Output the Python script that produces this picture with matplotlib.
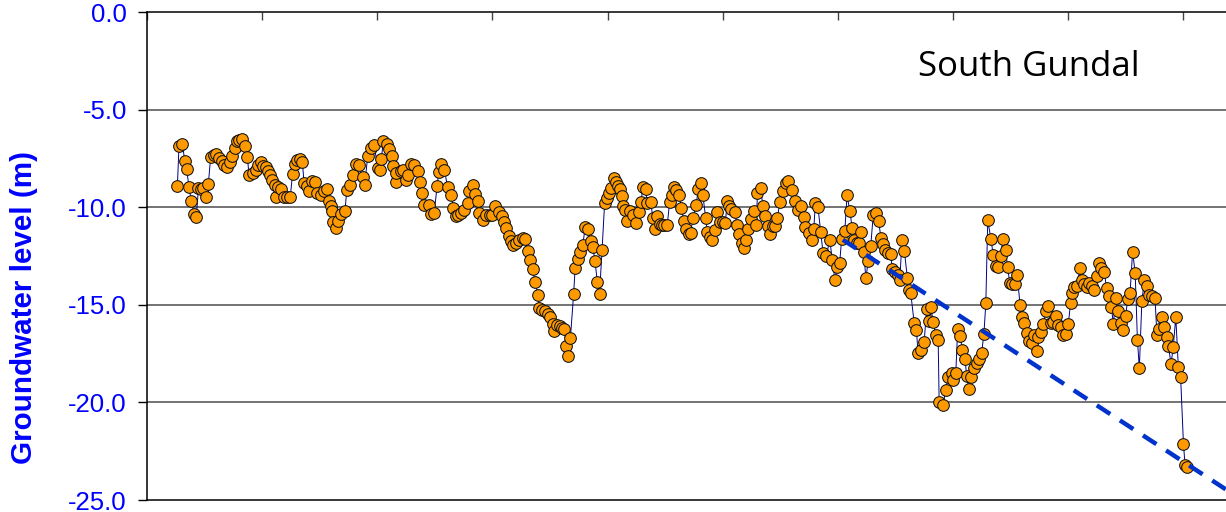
import matplotlib
matplotlib.use("Agg")
import matplotlib.pyplot as plt

plt.rcParams['axes.unicode_minus'] = False

# time axis in months from the start of the record, level in metres
months = [
    9.5, 10.0, 11.05, 11.8, 12.4, 13.1, 13.9, 14.7, 15.4, 16.1, 16.8, 17.6, 18.5, 19.2, 19.9, 21.0,
    21.5, 22.5, 23.3, 24.1, 24.9, 25.9, 26.7, 27.5, 28.1, 28.8, 29.8, 30.6, 31.4, 31.9, 33.0, 34.0,
    34.8, 35.6, 36.3, 37.2, 37.9, 38.5, 39.2, 40.1, 40.3, 41.1, 41.9, 42.7, 43.7, 44.8, 45.5, 46.2,
    47.0, 47.9, 48.6, 49.1, 50.0, 50.7, 51.7, 52.5, 53.3, 54.4, 55.4, 56.3, 56.8, 57.5, 57.8, 58.3,
    59.1, 59.8, 60.6, 61.9, 62.5, 63.5, 64.3, 65.3, 66.4, 67.4, 68.1, 69.0, 70.0,
    71.1, 72.1, 72.9, 73.3, 73.9, 74.9, 75.8, 76.5, 77.0, 77.9, 78.0, 79.4, 80.2, 81.0, 81.7, 82.5,
    83.4, 84.6, 85.4, 86.0, 86.7, 88.1, 88.8, 89.8, 90.7, 91.2, 91.9, 93.0, 94.0, 95.1, 95.8, 96.6,
    97.4, 98.2, 99.2, 100.3, 100.8, 101.8, 102.7, 103.4, 103.9, 105.0, 106.0, 107.1, 107.9, 108.9,
    110.0, 110.9, 111.7, 112.3, 113.1, 113.9, 114.6, 115.4, 116.2, 117.5, 118.3, 119.0, 119.9, 120.6,
    121.4, 122.2, 122.7, 123.6, 124.3, 125.3, 126.1, 126.9, 127.4, 128.1, 129.0, 129.8, 130.5, 131.1,
    131.8, 132.4, 133.4, 133.9,
    134.7, 135.5, 136.3, 137.0, 137.8, 138.7, 139.4, 140.1, 140.8, 141.5, 142.3, 143.1, 143.8, 144.6,
    145.2, 146.0, 146.7, 147.2, 147.8, 148.5, 149.0, 149.6, 150.0, 150.9, 151.9, 153.0, 153.7, 154.5,
    155.0, 155.9, 156.4, 157.5, 158.2, 158.7, 159.6, 160.3, 161.0, 161.8, 162.7, 163.4, 164.1, 164.7,
    165.5, 166.5, 167.1, 167.9, 168.6, 169.4, 170.0, 170.7, 171.8, 172.3, 173.1, 173.8, 174.7, 175.2,
    175.9, 176.6, 177.5, 178.3, 179.1, 180.1, 180.8, 181.5, 182.0, 182.7, 183.8, 184.5, 185.1, 185.9,
    186.7, 187.4, 187.9, 189.0, 189.7, 190.5, 190.9, 191.9, 192.6, 193.4, 194.2, 194.9, 195.8, 196.3,
    197.1, 197.9, 198.9, 199.7, 200.4,
    201.7, 202.5, 203.6, 204.6, 205.4, 205.9, 206.9, 207.8, 208.5, 209.0, 209.8, 210.7, 211.4, 212.4,
    213.5, 214.3, 215.1, 215.8, 216.6, 217.2, 218.2, 218.9, 219.8, 220.5, 221.1, 221.9, 222.6, 223.4,
    224.1, 224.8, 225.5, 226.3, 227.1, 228.1, 228.8, 229.5, 230.2, 230.7, 231.7, 232.6, 233.0, 233.8,
    234.9, 235.4, 236.1, 236.8, 237.8, 238.2, 238.8, 239.9, 240.6, 241.1, 242.0, 243.0, 243.8, 244.5,
    245.1, 245.8, 246.6, 247.4, 247.7, 249.0, 249.7, 250.6, 251.6, 252.1, 252.9, 253.5, 254.2, 255.0,
    255.8, 256.3, 257.0, 257.8, 258.7, 259.4, 260.1, 261.0, 261.7, 262.3, 262.9,
    263.9, 264.6, 265.4, 266.2, 266.9, 267.7, 268.5, 269.1, 269.8, 270.6, 271.4, 272.1, 273.0, 273.7,
    274.3, 275.1, 275.8, 276.6, 277.4, 278.2, 278.7, 279.5, 280.2, 281.1, 281.8, 282.6, 283.4, 284.1,
    284.9, 285.8, 286.5, 287.3, 288.1, 288.8, 289.3, 290.0, 290.7, 291.8, 292.3, 293.1, 293.9, 294.7,
    295.4, 296.1, 297.0, 297.7, 298.3, 299.3, 300.1, 300.8, 301.5, 302.2, 302.9, 303.7, 304.5, 305.1,
    306.0, 306.7, 307.4, 308.2, 309.0, 309.7, 310.3, 311.1, 311.9, 312.8, 313.4, 314.2, 315.2, 315.8,
    316.5, 317.3, 318.0, 318.9, 319.4, 320.2, 320.9, 321.7, 322.5, 323.2, 324.1, 324.6, 325.1,
]
levels = [
    -8.93, -6.88, -6.74, -7.62, -8.03, -8.96, -9.70, -10.35, -10.52, -9.02, -9.05, -9.02, -9.50, -8.79,
    -7.43, -7.31, -7.27, -7.48, -7.65, -7.82, -7.96, -7.68, -7.39, -6.96, -6.63, -6.54, -6.49, -6.88,
    -7.43, -8.37, -8.25, -8.08, -7.86, -7.68, -7.91, -7.94, -8.16, -8.33, -8.59, -8.85, -9.50, -8.98,
    -9.05, -9.50, -9.46, -9.48, -8.30, -7.78, -7.56, -7.53, -7.70, -8.76, -8.93, -9.15, -8.68, -8.71,
    -9.27, -9.39, -9.19, -9.05, -9.67, -9.96, -10.18, -10.76, -11.07, -10.73, -10.35, -10.18, -9.10,
    -8.88, -8.33, -7.78, -7.86, -8.47, -8.85, -7.39, -6.96,
    -6.83, -7.99, -8.08, -7.51, -6.59, -6.76, -7.00, -7.39, -7.91, -8.71, -8.25, -8.16, -8.08, -8.59,
    -8.37, -7.78, -7.86, -8.16, -8.71, -9.27, -9.87, -9.91, -10.35, -10.28, -8.93, -8.21, -7.78, -8.08,
    -8.98, -9.36, -10.04, -10.47, -10.42, -10.30, -10.13, -9.78, -9.19, -8.88, -9.32, -9.70, -10.30,
    -10.64, -10.38, -10.42, -10.38, -9.96, -10.25, -10.47, -10.76, -11.07, -11.45, -11.75, -11.92,
    -11.84, -11.67, -11.58, -11.62, -12.23, -12.69, -13.15, -13.84, -14.49, -15.14, -15.26, -15.34,
    -15.48, -15.65, -15.97, -16.33, -16.03, -16.11, -16.19, -16.23, -17.10, -17.60, -16.71, -14.45,
    -13.09,
    -12.66, -12.27, -11.92, -11.02, -11.12, -11.75, -12.04, -12.78, -13.81, -14.44, -12.18, -9.78,
    -9.53, -9.27, -9.02, -8.50, -8.73, -8.93, -9.07, -9.41, -9.96, -10.13, -10.73, -10.21, -10.38,
    -10.81, -10.27, -9.75, -8.96, -9.07, -9.78, -9.75, -10.55, -11.12, -10.44, -10.85, -10.90, -10.90,
    -10.90, -9.75, -9.36, -8.96, -9.10, -9.37, -10.04, -10.73, -11.12, -11.36, -11.32, -10.55, -9.87,
    -9.07, -8.76, -9.36, -10.55, -11.29, -11.53, -11.70, -11.19, -10.27, -10.78, -10.78, -10.81, -9.70,
    -9.96, -10.09, -10.27, -10.90, -11.36, -11.81, -12.09, -11.67, -11.12, -10.61, -10.21, -10.90,
    -9.27, -9.02, -9.96, -10.44, -10.98, -11.36, -10.95, -10.98, -10.55, -9.75, -9.19, -8.76, -8.68,
    -9.10, -9.70, -10.16, -9.92, -10.50, -11.02, -11.32, -11.67, -11.12, -9.78, -9.99, -11.29, -12.35,
    -12.49, -11.67, -12.73, -13.75, -13.07, -12.86, -11.63, -11.24, -9.39, -10.21, -11.07, -11.70,
    -11.84, -11.81, -11.27, -12.32, -13.63, -12.78, -12.01, -10.38, -10.30, -10.73, -11.58, -11.87,
    -12.18, -12.35, -12.38, -13.17, -13.34, -13.46, -13.72, -11.67, -12.22, -13.63, -14.23, -14.37,
    -15.94, -16.28, -17.48, -17.34, -16.93, -15.22, -15.81, -15.09, -15.86, -16.54, -16.79, -19.96,
    -20.13, -19.36, -18.68, -18.50, -18.85, -18.50, -16.25, -16.59, -17.31, -17.78, -18.64, -19.32,
    -18.71, -18.25, -17.96, -17.78, -17.45, -16.49, -14.91, -10.68,
    -11.62, -12.44, -13.00, -13.07, -12.52, -11.63, -12.18, -13.07, -13.89, -13.92, -13.92, -13.46,
    -15.00, -15.63, -15.94, -16.42, -16.88, -16.96, -16.54, -17.39, -16.63, -16.37, -15.97, -15.34,
    -15.05, -15.94, -15.86, -15.56, -16.03, -16.14, -16.54, -16.49, -15.97, -14.91, -14.37, -14.09,
    -14.03, -13.12, -13.75, -13.92, -14.09, -13.86, -14.06, -14.23, -13.55, -12.86, -13.12, -13.34,
    -14.14, -14.57, -15.09, -15.97, -14.66, -15.34, -15.94, -16.28, -15.56, -14.71, -14.40, -12.27,
    -13.37, -16.79, -18.25, -14.78, -13.75, -14.06, -14.49, -14.57, -14.66, -16.54, -16.25, -15.60,
    -16.14, -16.63, -17.10, -18.03, -17.17, -15.63, -18.19, -18.68, -22.13, -23.21, -23.32,
]

# declining trend drawn over the later part of the record
trend_months = [217.6, 340.0]
trend_levels = [-11.67, -24.74]

y_ticks = [0, -5, -10, -15, -20, -25]
x_ticks = list(range(0, 337, 36))
site_name = "South Gundal"

fig = plt.figure(figsize=(12.26, 5.12), dpi=100)
ax = fig.add_axes([147 / 1226, 12 / 512, 1 - 147 / 1226, 488 / 512])

ax.plot(months, levels, color='#000080', linewidth=0.7,
        marker='o', markersize=8.4, markerfacecolor='#FF9900',
        markeredgecolor='#111111', markeredgewidth=0.75, zorder=3)

ax.plot(trend_months, trend_levels, color='#0033CC', linewidth=3.2,
        linestyle=(0, (3.6, 2.6)), zorder=4)

ax.set_xlim(0, 337.4)
ax.set_ylim(-25, 0)

# gridlines only at the inner y ticks
for yv in y_ticks[1:-1]:
    ax.axhline(yv, color='#4d4d4d', linewidth=1.1, zorder=1)

ax.set_yticks(y_ticks)
ax.set_yticklabels([f"{v:.1f}" for v in y_ticks],
                   fontfamily='Liberation Sans', fontsize=18.5, color='#0000FF')
ax.tick_params(axis='y', direction='out', length=6.5, width=1.0, pad=8, colors='black',
               labelcolor='#0000FF')

ax.xaxis.set_ticks_position('top')
ax.set_xticks(x_ticks)
ax.set_xticklabels([])
ax.tick_params(axis='x', direction='in', length=5.5, width=1.0, color='#444444')

for side in ['left', 'top', 'bottom']:
    ax.spines[side].set_linewidth(1.1)
    ax.spines[side].set_color('black')
ax.spines['right'].set_visible(False)

fig.text(24.5 / 1226, 1 - 308 / 512, "Groundwater level (m)", rotation=90,
         ha='center', va='center', fontfamily='Liberation Sans', fontweight='bold',
         fontsize=21.3, color='#0000FF')

ax.text(0.817, 0.888, site_name, transform=ax.transAxes, ha='center', va='center',
        fontfamily='Open Sans', fontsize=25, color='black')

fig.savefig('out.png', dpi=100)
